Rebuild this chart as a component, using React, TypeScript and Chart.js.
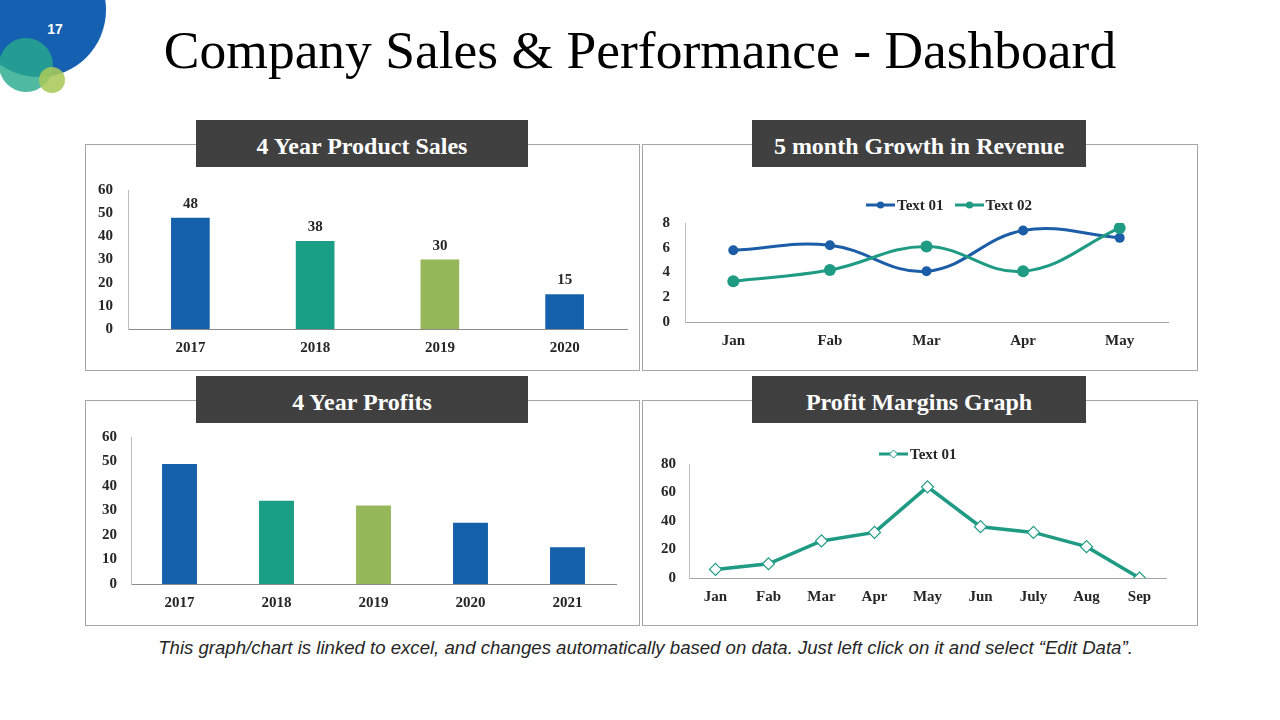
import React, { useEffect, useRef } from "react";
import { Chart, registerables } from "chart.js";

Chart.register(...registerables);

// ---------- DATA ----------
const salesYears = ["2017", "2018", "2019", "2020"];
const salesValues = [48, 38, 30, 15];

const growthMonths = ["Jan", "Fab", "Mar", "Apr", "May"];
const growthText01 = [5.8, 6.2, 4.1, 7.4, 6.8];
const growthText02 = [3.3, 4.2, 6.1, 4.1, 7.6];

const profitYears = ["2017", "2018", "2019", "2020", "2021"];
const profitValues = [49, 34, 32, 25, 15];

const marginMonths = ["Jan", "Fab", "Mar", "Apr", "May", "Jun", "July", "Aug", "Sep"];
const marginValues = [6, 10, 26, 32, 64, 36, 32, 22, 0];

const salesTicks = [0, 10, 20, 30, 40, 50, 60];
const growthTicks = [0, 2, 4, 6, 8];
const marginTicks = [0, 20, 40, 60, 80];

// ---------- STYLE ----------
const BLUE = "#1560AA";
const TEAL = "#1A9E85";
const GREEN = "#97B85A";
const LINE_BLUE = "#1B5DA6";
const LINE_TEAL = "#1F9B84";
const SERIF = '"Liberation Serif", "Times New Roman", serif';
const SANS = '"Liberation Sans", Arial, sans-serif';
const TEXT = "#262626";

const salesColors = [BLUE, TEAL, GREEN, BLUE];
const profitColors = [BLUE, TEAL, GREEN, BLUE, BLUE];

const tickFont = { family: SERIF, size: 15, weight: "bold" as const };

function xScale(height: number, padding: number, offset: boolean, color = "#8c8c8c") {
  return {
    offset,
    grid: { display: false, drawTicks: false },
    border: { display: true, color, width: 1 },
    ticks: { font: tickFont, color: TEXT, padding, autoSkip: false, maxRotation: 0 },
    afterFit: (s: any) => {
      s.height = height;
    },
  };
}

function yScale(width: number, padding: number, max: number, step: number) {
  return {
    min: 0,
    max,
    grid: { display: false, drawTicks: false },
    border: { display: true, color: "#bfbfbf", width: 1 },
    ticks: { font: tickFont, color: TEXT, padding, stepSize: step },
    afterFit: (s: any) => {
      s.width = width;
    },
  };
}

const valueLabelPlugin = {
  id: "valueLabels",
  afterDatasetsDraw(chart: any) {
    const ctx = chart.ctx;
    const meta = chart.getDatasetMeta(0);
    const data = chart.data.datasets[0].data;
    ctx.save();
    ctx.font = `bold 15px ${SERIF}`;
    ctx.fillStyle = TEXT;
    ctx.textAlign = "center";
    ctx.textBaseline = "alphabetic";
    meta.data.forEach((el: any, i: number) => {
      ctx.fillText(String(data[i]), el.x, el.y - 10);
    });
    ctx.restore();
  },
};

function ChartCanvas({
  left,
  top,
  width,
  height,
  build,
}: {
  left: number;
  top: number;
  width: number;
  height: number;
  build: () => any;
}) {
  const ref = useRef<HTMLCanvasElement>(null);
  useEffect(() => {
    if (!ref.current) return;
    const chart = new Chart(ref.current, build());
    return () => chart.destroy();
  }, []);
  return (
    <canvas
      ref={ref}
      width={width}
      height={height}
      style={{ position: "absolute", left, top, width, height }}
    />
  );
}

const salesConfig = () => ({
  type: "bar",
  data: {
    labels: salesYears,
    datasets: [
      {
        data: salesValues,
        backgroundColor: salesColors,
        barPercentage: 0.31,
        categoryPercentage: 1,
      },
    ],
  },
  options: {
    responsive: false,
    animation: false,
    layout: { padding: { left: 0, right: 11, top: 45, bottom: 0 } },
    plugins: { legend: { display: false }, tooltip: { enabled: false } },
    scales: { x: xScale(40, 10, true), y: yScale(42, 15, salesTicks[salesTicks.length - 1], salesTicks[1] - salesTicks[0]) },
  },
  plugins: [valueLabelPlugin],
});

const growthConfig = () => ({
  type: "line",
  data: {
    labels: growthMonths,
    datasets: [
      {
        label: "Text 01",
        data: growthText01,
        borderColor: LINE_BLUE,
        backgroundColor: LINE_BLUE,
        borderWidth: 3,
        pointRadius: 5,
        pointBorderWidth: 0,
        tension: 0.4,
        order: 1,
      },
      {
        label: "Text 02",
        data: growthText02,
        borderColor: LINE_TEAL,
        backgroundColor: LINE_TEAL,
        borderWidth: 3,
        pointRadius: 6,
        pointBorderWidth: 0,
        tension: 0.4,
        order: 0,
      },
    ],
  },
  options: {
    responsive: false,
    animation: false,
    layout: { padding: { left: 0, right: 29, top: 78, bottom: 0 } },
    plugins: { legend: { display: false }, tooltip: { enabled: false } },
    scales: {
      x: xScale(47, 10, true, "#a6a6a6"),
      y: yScale(42, 15, growthTicks[growthTicks.length - 1], growthTicks[1] - growthTicks[0]),
    },
  },
});

const profitConfig = () => ({
  type: "bar",
  data: {
    labels: profitYears,
    datasets: [
      {
        data: profitValues,
        backgroundColor: profitColors,
        barPercentage: 0.36,
        categoryPercentage: 1,
      },
    ],
  },
  options: {
    responsive: false,
    animation: false,
    layout: { padding: { left: 0, right: 22, top: 36, bottom: 0 } },
    plugins: { legend: { display: false }, tooltip: { enabled: false } },
    scales: { x: xScale(41, 10, true), y: yScale(45, 14, salesTicks[salesTicks.length - 1], salesTicks[1] - salesTicks[0]) },
  },
});

const marginConfig = () => ({
  type: "line",
  data: {
    labels: marginMonths,
    datasets: [
      {
        label: "Text 01",
        data: marginValues,
        borderColor: LINE_TEAL,
        backgroundColor: "#ffffff",
        borderWidth: 3.5,
        pointStyle: "rectRot",
        pointRadius: 6,
        pointBorderWidth: 1.2,
        pointBorderColor: LINE_TEAL,
        pointBackgroundColor: "#ffffff",
        tension: 0,
      },
    ],
  },
  options: {
    responsive: false,
    animation: false,
    layout: { padding: { left: 0, right: 31, top: 63, bottom: 0 } },
    plugins: { legend: { display: false }, tooltip: { enabled: false } },
    scales: {
      x: xScale(47, 10, true, "#a6a6a6"),
      y: yScale(46, 13, marginTicks[marginTicks.length - 1], marginTicks[1] - marginTicks[0]),
    },
  },
});

function Header({ left, top, width, text }: { left: number; top: number; width: number; text: string }) {
  return (
    <div
      style={{
        position: "absolute",
        left,
        top,
        width,
        height: 47,
        background: "#404040",
        color: "#ffffff",
        fontFamily: SERIF,
        fontWeight: "bold",
        fontSize: 24,
        lineHeight: "52px",
        textAlign: "center",
        whiteSpace: "nowrap",
        overflow: "hidden",
      }}
    >
      {text}
    </div>
  );
}

function Box({ left, top, width, height }: { left: number; top: number; width: number; height: number }) {
  return (
    <div
      style={{
        position: "absolute",
        left,
        top,
        width,
        height,
        border: "1px solid #a6a6a6",
        boxSizing: "border-box",
      }}
    />
  );
}

function LegendItem({ color, marker, label }: { color: string; marker: "dot" | "diamond"; label: string }) {
  return (
    <div style={{ display: "flex", alignItems: "center" }}>
      <svg width={29} height={12} style={{ display: "block" }}>
        <line x1={0} y1={6} x2={29} y2={6} stroke={color} strokeWidth={3} />
        {marker === "dot" ? (
          <circle cx={14.5} cy={6} r={3.6} fill={color} />
        ) : (
          <polygon points="14.5,2 18.5,6 14.5,10 10.5,6" fill="#ffffff" stroke={color} strokeWidth={1} />
        )}
      </svg>
      <span
        style={{
          marginLeft: 2,
          fontFamily: SERIF,
          fontWeight: "bold",
          fontSize: 15,
          color: TEXT,
          whiteSpace: "nowrap",
          lineHeight: "18px",
        }}
      >
        {label}
      </span>
    </div>
  );
}

export default function App() {
  return (
    <div
      style={{
        position: "fixed",
        left: 0,
        top: 0,
        width: 1280,
        height: 720,
        background: "#ffffff",
        overflow: "hidden",
      }}
    >
      {/* decorative circles */}
      <div style={{ position: "absolute", left: 39 - 67, top: 10 - 67, width: 134, height: 134, borderRadius: "50%", background: "#1560B0" }} />
      <div style={{ position: "absolute", left: 26 - 27, top: 65 - 27, width: 54, height: 54, borderRadius: "50%", background: "rgba(40,170,140,0.82)" }} />
      <div style={{ position: "absolute", left: 52 - 13, top: 80 - 13, width: 26, height: 26, borderRadius: "50%", background: "rgba(168,200,90,0.88)" }} />
      <div
        style={{
          position: "absolute",
          left: 40,
          top: 20,
          width: 30,
          textAlign: "center",
          color: "#ffffff",
          fontFamily: SANS,
          fontWeight: "bold",
          fontSize: 14,
          lineHeight: "18px",
        }}
      >
        17
      </div>

      {/* title */}
      <div
        style={{
          position: "absolute",
          left: 0,
          top: 24,
          width: 1280,
          textAlign: "center",
          fontFamily: SERIF,
          fontSize: 53.5,
          lineHeight: "53px",
          color: "#000000",
          whiteSpace: "nowrap",
        }}
      >
        Company Sales &amp; Performance - Dashboard
      </div>

      {/* boxes */}
      <Box left={85} top={144} width={555} height={227} />
      <Box left={642} top={144} width={556} height={227} />
      <Box left={85} top={400} width={555} height={226} />
      <Box left={642} top={400} width={556} height={226} />

      {/* charts */}
      <ChartCanvas left={86} top={145} width={552} height={224} build={salesConfig} />
      <ChartCanvas left={643} top={145} width={554} height={224} build={growthConfig} />
      <ChartCanvas left={86} top={401} width={552} height={224} build={profitConfig} />
      <ChartCanvas left={643} top={401} width={554} height={224} build={marginConfig} />

      {/* headers */}
      <Header left={196} top={120} width={332} text="4 Year Product Sales" />
      <Header left={752} top={120} width={334} text="5 month Growth in Revenue" />
      <Header left={196} top={376} width={332} text="4 Year Profits" />
      <Header left={752} top={376} width={334} text="Profit Margins Graph" />

      {/* legends */}
      <div style={{ position: "absolute", left: 866, top: 196, display: "flex" }}>
        <LegendItem color={LINE_BLUE} marker="dot" label="Text 01" />
        <div style={{ width: 11 }} />
        <LegendItem color={LINE_TEAL} marker="dot" label="Text 02" />
      </div>
      <div style={{ position: "absolute", left: 879, top: 445, display: "flex" }}>
        <LegendItem color={LINE_TEAL} marker="diamond" label="Text 01" />
      </div>

      {/* footer */}
      <div
        style={{
          position: "absolute",
          left: 0,
          top: 637,
          width: 1291,
          textAlign: "center",
          fontFamily: SANS,
          fontStyle: "italic",
          fontSize: 18.6,
          lineHeight: "22px",
          color: "#262626",
          whiteSpace: "nowrap",
        }}
      >
        This graph/chart is linked to excel, and changes automatically based on data. Just left click on it and select “Edit Data”.
      </div>
    </div>
  );
}
